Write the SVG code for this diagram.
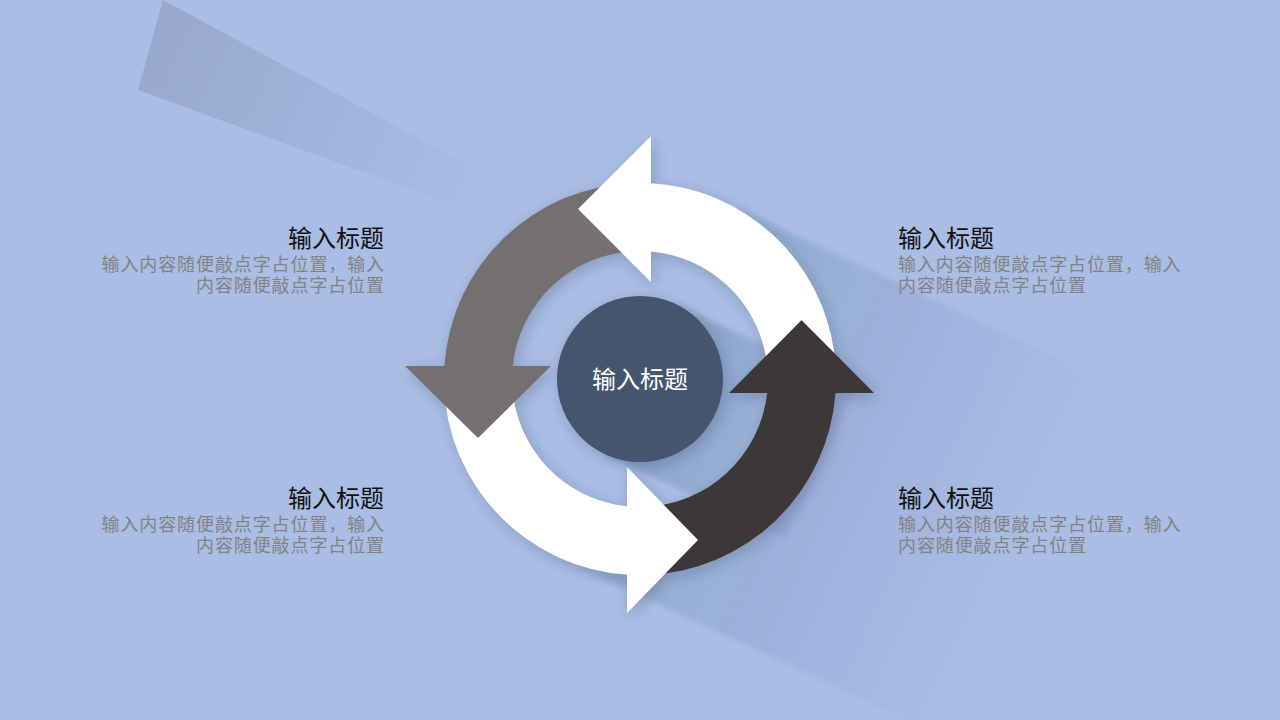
<svg xmlns="http://www.w3.org/2000/svg" width="1280" height="720" viewBox="0 0 1280 720">
  <defs>
    <style>
      .title { font-family: "Noto Sans CJK SC", "Noto Sans", sans-serif; font-size: 24px; fill: #111111; }
      .body { font-family: "Noto Sans CJK SC", "Noto Sans", sans-serif; font-size: 18px; letter-spacing: 0.9px; fill: #838383; }
      .center { font-family: "Noto Sans CJK SC", "Noto Sans", sans-serif; font-size: 24px; fill: #FFFFFF; }
      .white { fill: #FFFFFF; }
      .gray { fill: #756F6F; }
      .dark { fill: #3D3939; }
    </style>
    <linearGradient id="stripGrad" gradientUnits="userSpaceOnUse" x1="140" y1="40" x2="490" y2="205">
      <stop offset="0" stop-color="#000000" stop-opacity="0.11"/>
      <stop offset="1" stop-color="#000000" stop-opacity="0"/>
    </linearGradient>
    <linearGradient id="ringShadowGrad" gradientUnits="userSpaceOnUse" x1="700" y1="407" x2="1035" y2="564">
      <stop offset="0" stop-color="#1a2a50" stop-opacity="0.13"/>
      <stop offset="0.5" stop-color="#1a2a50" stop-opacity="0.05"/>
      <stop offset="1" stop-color="#1a2a50" stop-opacity="0"/>
    </linearGradient>
    <linearGradient id="circleShadowGrad" gradientUnits="userSpaceOnUse" x1="640" y1="379" x2="830" y2="468">
      <stop offset="0" stop-color="#1a2a50" stop-opacity="0.2"/>
      <stop offset="1" stop-color="#1a2a50" stop-opacity="0.03"/>
    </linearGradient>
    <filter id="soft" x="-20%" y="-20%" width="140%" height="140%">
      <feDropShadow dx="3" dy="4" stdDeviation="7" flood-color="#1a2a50" flood-opacity="0.25"/>
    </filter>
    <filter id="blur" x="-10%" y="-10%" width="120%" height="120%">
      <feGaussianBlur stdDeviation="2.5"/>
    </filter>
  </defs>

  <rect width="1280" height="720" fill="#AABDE4"/>

  <!-- decorative strip top-left -->
  <polygon points="163,0 500,182 500,222 138,90" fill="url(#stripGrad)"/>

  <!-- long shadows -->
  <path d="M 722.9,201.4 L 1170,410 L 1004,766 L 557.1,556.6 A 196 196 0 0 0 722.9,201.4 Z" fill="url(#ringShadowGrad)" filter="url(#blur)"/>
  <polygon points="675.1,303.8 856,389 786,539 604.9,454.2" fill="url(#circleShadowGrad)" filter="url(#blur)"/>

  <g id="cycle" filter="url(#soft)">
    <g id="arrow-dark">
      <path class="dark" d="M 835.5,393 A 196 196 0 0 1 646.8,574.9 L 644.5,506.9 A 128 128 0 0 0 767.2,393 Z"/>
      <polygon class="dark" points="729,393 874,393 801.5,320"/>
    </g>
    <g id="arrow-white-bottom">
      <path class="white" d="M 627,574.6 A 196 196 0 0 1 444.1,385.8 L 512.1,383.5 A 128 128 0 0 0 627,506.3 Z"/>
      <polygon class="white" points="627,467 627,613 698,540"/>
    </g>
    <g id="arrow-gray">
      <path class="gray" d="M 444.4,366 A 196 196 0 0 1 633.2,183.1 L 635.5,251.1 A 128 128 0 0 0 512.7,366 Z"/>
      <polygon class="gray" points="405,366 551,366 478,438"/>
    </g>
    <g id="arrow-white-top">
      <path class="white" d="M 651,183.3 A 196 196 0 0 1 834.2,352.7 L 801.5,320 L 765.9,356.1 A 128 128 0 0 0 651,251.5 Z"/>
      <polygon class="white" points="651,136 651,282 578,209"/>
    </g>
  </g>

  <g id="center-node">
    <circle cx="640" cy="379" r="83" fill="#44546C" filter="url(#soft)"/>
    <text class="center" x="640" y="388" text-anchor="middle">输入标题</text>
  </g>

  <g id="label-top-left">
    <text class="title" x="384" y="247" text-anchor="end">输入标题</text>
    <text class="body" x="385" y="271" text-anchor="end">输入内容随便敲点字占位置，输入</text>
    <text class="body" x="385" y="292" text-anchor="end">内容随便敲点字占位置</text>
  </g>
  <g id="label-bottom-left">
    <text class="title" x="384" y="507" text-anchor="end">输入标题</text>
    <text class="body" x="385" y="531" text-anchor="end">输入内容随便敲点字占位置，输入</text>
    <text class="body" x="385" y="552" text-anchor="end">内容随便敲点字占位置</text>
  </g>
  <g id="label-top-right">
    <text class="title" x="898" y="247">输入标题</text>
    <text class="body" x="898" y="271">输入内容随便敲点字占位置，输入</text>
    <text class="body" x="898" y="292">内容随便敲点字占位置</text>
  </g>
  <g id="label-bottom-right">
    <text class="title" x="898" y="507">输入标题</text>
    <text class="body" x="898" y="531">输入内容随便敲点字占位置，输入</text>
    <text class="body" x="898" y="552">内容随便敲点字占位置</text>
  </g>
</svg>
